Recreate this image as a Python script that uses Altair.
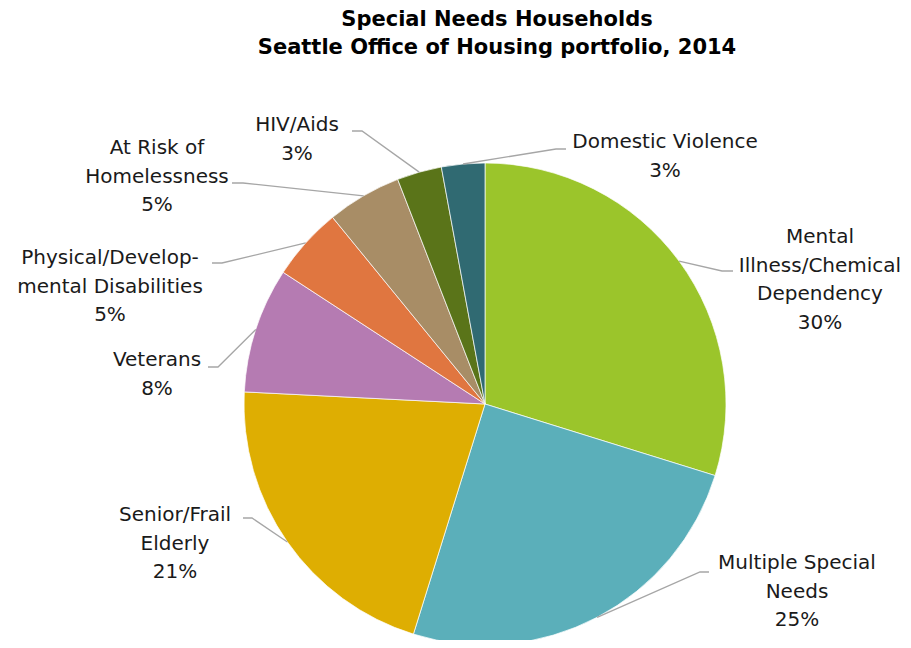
import math
import altair as alt
import pandas as pd

# ---- data ----
categories = [
    "Mental Illness/Chemical Dependency",
    "Multiple Special Needs",
    "Senior/Frail Elderly",
    "Veterans",
    "Physical/Developmental Disabilities",
    "At Risk of Homelessness",
    "HIV/Aids",
    "Domestic Violence",
]
label_text = [
    "Mental\nIllness/Chemical\nDependency",
    "Multiple Special\nNeeds",
    "Senior/Frail\nElderly",
    "Veterans",
    "Physical/Develop-\nmental Disabilities",
    "At Risk of\nHomelessness",
    "HIV/Aids",
    "Domestic Violence",
]
values = [29.8, 25.0, 21.0, 8.4, 4.9, 5.0, 3.0, 2.9]
colors = ["#9BC52B", "#5BAFBA", "#DEAE02", "#B57BB2", "#E07640", "#A88D66", "#5A7419", "#306A72"]

# ---- layout (page pixels) ----
W, H, M = 911, 648, 8
CX, CY, R = 485, 404, 241
# text centre x, first-line centre y, elbow x, elbow y, line end x
LAYOUT = [
    (820, 237, 722, 271, 733),
    (797, 563, 700, 572, 709),
    (175, 515, 252, 518, 243),
    (157, 360, 218, 367, 208),
    (110, 258, 222, 263, 212),
    (157, 148, 243, 183, 232),
    (297, 125, 362, 131, 352),
    (665, 142, 556, 149, 566),
]
FONT = "DejaVu Sans"

df = pd.DataFrame({
    "category": categories,
    "value": values,
    "order": list(range(len(values))),
})

rows_txt, rows_line = [], []
total = sum(values)
cum = 0.0
for i, (cat, v) in enumerate(zip(categories, values)):
    mid = (cum + v / 2) / total * 2 * math.pi
    cum += v
    ex = CX + R * math.sin(mid)
    ey = CY - R * math.cos(mid)
    tx, ty, bx, by, endx = LAYOUT[i]
    rows_txt.append({"category": cat, "x": tx, "y": ty,
                     "label": label_text[i] + f"\n{round(v)}%"})
    for k, (px, py) in enumerate([(ex, ey), (bx, by), (endx, by)]):
        rows_line.append({"category": cat, "k": k, "x": px, "y": py})

txt_df = pd.DataFrame(rows_txt)
line_df = pd.DataFrame(rows_line)

xs = alt.Scale(domain=[M, W - M], range=[0, W - 2 * M])
ys = alt.Scale(domain=[M, H - M], reverse=True)

pie = alt.Chart(df).mark_arc(outerRadius=R, stroke="white", strokeWidth=0.7).encode(
    theta=alt.Theta("value:Q", stack=True),
    order=alt.Order("order:Q"),
    color=alt.Color("category:N", scale=alt.Scale(domain=categories, range=colors), legend=None),
    x=alt.value(CX - M),
    y=alt.value(CY - M),
)

leaders = alt.Chart(line_df).mark_line(color="#A6A6A6", strokeWidth=1.3).encode(
    x=alt.X("x:Q", scale=xs, axis=None),
    y=alt.Y("y:Q", scale=ys, axis=None),
    detail="category:N",
    order="k:Q",
)

labels = alt.Chart(txt_df).mark_text(
    font=FONT, fontSize=20, color="#1A1A1A", align="center", baseline="middle",
    lineBreak="\n", lineHeight=28.5,
).encode(
    x=alt.X("x:Q", scale=xs, axis=None),
    y=alt.Y("y:Q", scale=ys, axis=None),
    text="label:N",
)

title_df = pd.DataFrame({"t": ["Special Needs Households\nSeattle Office of Housing portfolio, 2014"]})
title = alt.Chart(title_df).mark_text(
    font=FONT, fontSize=21, fontWeight="bold", color="#000000", align="center",
    baseline="middle", lineBreak="\n", lineHeight=28,
).encode(
    x=alt.value(497 - M),
    y=alt.value(20 - M),
    text="t:N",
)

chart = alt.layer(pie, leaders, labels, title).properties(
    width=W - 2 * M, height=H - 2 * M, autosize=alt.AutoSizeParams(type="none"), padding=0,
).configure_view(stroke=None)

chart.save("out.html", embed_options={"renderer": "svg", "actions": False})
